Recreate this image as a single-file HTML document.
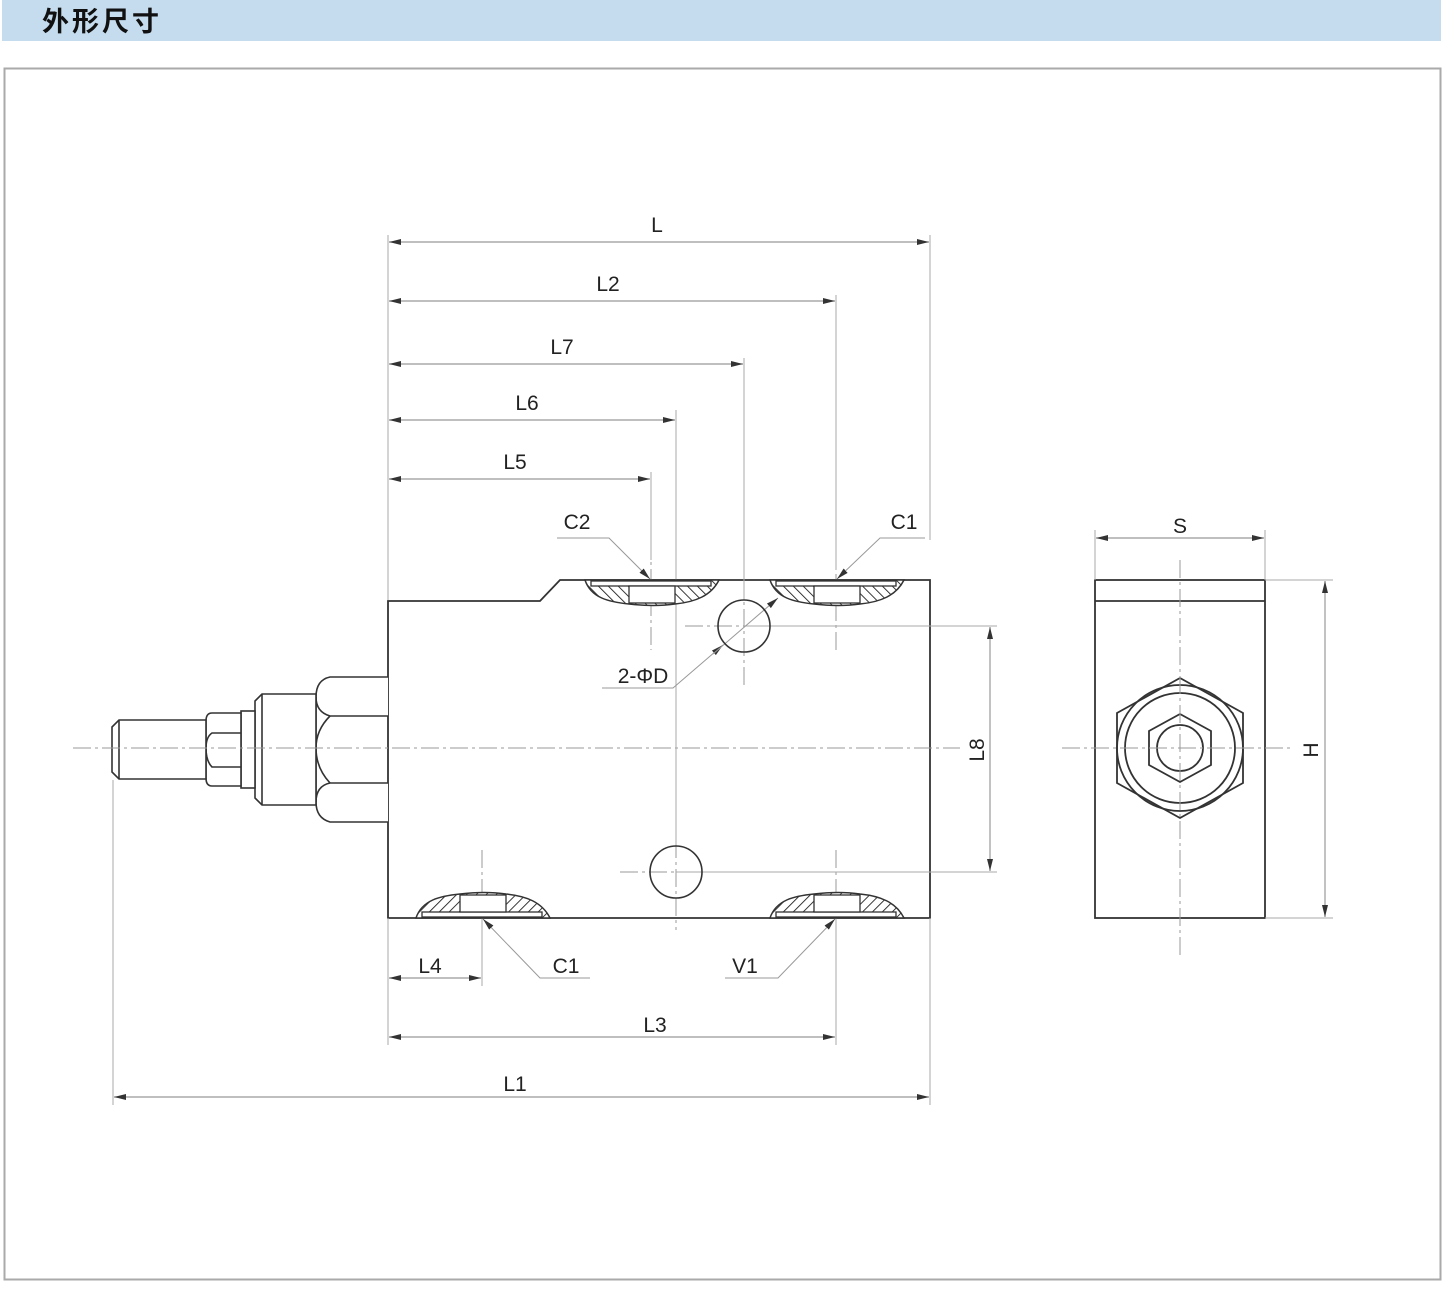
<!DOCTYPE html>
<html><head><meta charset="utf-8"><style>
html,body{margin:0;padding:0;background:#fff;width:1445px;height:1290px;overflow:hidden}
</style></head><body>
<svg width="1445" height="1290" viewBox="0 0 1445 1290" xmlns="http://www.w3.org/2000/svg">
<defs>
<pattern id="h" width="7" height="7" patternUnits="userSpaceOnUse" patternTransform="rotate(45)">
<rect width="7" height="7" fill="#fff"/><line x1="0" y1="0" x2="0" y2="7" stroke="#222" stroke-width="1.8"/>
</pattern>
<g id="port">
<path d="M-66,0 C-60,-18 -42,-22 -22,-24 C-5,-26 10,-26 24,-24 C44,-22 60,-16 68,0 Z" fill="url(#h)" stroke="#333" stroke-width="1.5"/>
<rect x="-60" y="-6" width="120" height="5" fill="#fff" stroke="#333" stroke-width="1.3"/>
<rect x="-22" y="-23" width="46" height="17" fill="#fff" stroke="#333" stroke-width="1.3"/>
</g>
<marker id="a" viewBox="0 0 12 6" refX="12" refY="3" markerWidth="12" markerHeight="6" markerUnits="userSpaceOnUse" orient="auto-start-reverse">
<path d="M0,0 L12,3 L0,6 Z" fill="#333"/></marker>
</defs>
<rect x="2" y="0" width="1439" height="41" fill="#c5dcee"/>
<text x="42" y="31" font-family="'Liberation Sans','Noto Sans CJK SC',sans-serif" font-size="27" font-weight="bold" fill="#111" letter-spacing="3">外形尺寸</text>
<rect x="4.5" y="68.5" width="1436" height="1211" fill="#fff" stroke="#aaa" stroke-width="2"/>

<!-- main body -->
<g stroke="#333" stroke-width="1.8" fill="#fff">
<path d="M388,601 L540,601 L560,580 L930,580 L930,918 L388,918 Z"/>
</g>
<rect x="1095" y="580" width="170" height="338" fill="#fff" stroke="#333" stroke-width="1.8"/>

<!-- centerlines -->
<g stroke="#999" stroke-width="1" stroke-dasharray="18,4,3,4" fill="none">
<line x1="73" y1="748" x2="960" y2="748"/>
<line x1="651" y1="540" x2="651" y2="650"/>
<line x1="836" y1="545" x2="836" y2="650"/>
<line x1="482" y1="850" x2="482" y2="930"/>
<line x1="836" y1="850" x2="836" y2="930"/>
<line x1="744" y1="580" x2="744" y2="685"/>
<line x1="685" y1="626" x2="800" y2="626"/>
<line x1="620" y1="872" x2="735" y2="872"/>
<line x1="676" y1="840" x2="676" y2="930"/>
</g>

<!-- extension lines -->
<g stroke="#aaa" stroke-width="1" fill="none">
<line x1="388" y1="235" x2="388" y2="600"/>
<line x1="930" y1="235" x2="930" y2="540"/>
<line x1="836" y1="295" x2="836" y2="570"/>
<line x1="744" y1="358" x2="744" y2="600"/>
<line x1="676" y1="410" x2="676" y2="845"/>
<line x1="651" y1="472" x2="651" y2="560"/>
<line x1="388" y1="918" x2="388" y2="1045"/>
<line x1="482" y1="918" x2="482" y2="986"/>
<line x1="836" y1="918" x2="836" y2="1045"/>
<line x1="930" y1="918" x2="930" y2="1105"/>
<line x1="113" y1="780" x2="113" y2="1105"/>
<line x1="744" y1="626" x2="997" y2="626"/>
<line x1="676" y1="872" x2="997" y2="872"/>
<line x1="1095" y1="530" x2="1095" y2="580"/>
<line x1="1265" y1="530" x2="1265" y2="580"/>
<line x1="1265" y1="580" x2="1333" y2="580"/>
<line x1="1265" y1="918" x2="1333" y2="918"/>
</g>

<!-- dimension lines -->
<g stroke="#999" stroke-width="1.2" fill="none" marker-start="url(#a)" marker-end="url(#a)">
<line x1="389" y1="242" x2="929" y2="242"/>
<line x1="389" y1="301" x2="835" y2="301"/>
<line x1="389" y1="364" x2="743" y2="364"/>
<line x1="389" y1="420" x2="675" y2="420"/>
<line x1="389" y1="479" x2="650" y2="479"/>
<line x1="389" y1="978" x2="481" y2="978"/>
<line x1="389" y1="1037" x2="835" y2="1037"/>
<line x1="114" y1="1097" x2="929" y2="1097"/>
<line x1="990" y1="627" x2="990" y2="871"/>
<line x1="1096" y1="538" x2="1264" y2="538"/>
<line x1="1325" y1="581" x2="1325" y2="917"/>
</g>

<!-- leaders -->
<g stroke="#999" stroke-width="1" fill="none">
<polyline points="557,538 609,538 650,579" marker-end="url(#a)"/>
<polyline points="925,538 880,538 837,579" marker-end="url(#a)"/>
<polyline points="602,688 673,688 723,645" marker-end="url(#a)"/>
<line x1="713" y1="654" x2="778" y2="598" marker-end="url(#a)"/>
<polyline points="590,978 540,978 483,919" marker-end="url(#a)"/>
<polyline points="725,978 778,978 835,919" marker-end="url(#a)"/>
</g>

<use href="#port" transform="translate(651,580) scale(1,-1)"/>
<use href="#port" transform="translate(836,580) scale(1,-1)"/>
<use href="#port" transform="translate(482,918)"/>
<use href="#port" transform="translate(836,918)"/>
<g stroke="#333" stroke-width="1.6" fill="none">
<circle cx="744" cy="626" r="26"/>
<circle cx="676" cy="872" r="26"/>
</g>

<!-- stem -->
<g stroke="#333" stroke-width="1.6" fill="#fff">
<path d="M388,677 L330,677 Q316,680 316,697 Q316,712 330,716 L388,716"/>
<path d="M388,783 L330,783 Q316,786 316,802 Q316,818 330,822 L388,822"/>
<path d="M330,716 Q316,730 316,748 Q316,768 330,783" fill="none"/>
<line x1="316" y1="697" x2="316" y2="802"/>
<path d="M262,694 L316,694 L316,805 L262,805 L255,798 L255,701 Z"/>
<line x1="262" y1="694" x2="262" y2="805"/>
<rect x="241" y="711" width="14" height="77"/>
<path d="M212,713 L241,713 L241,786 L212,786 Q206,786 206,778 L206,721 Q206,713 212,713 Z"/>
<path d="M241,733 L212,733 Q206,737 206,748 Q206,761 212,767 L241,767" fill="none"/>
<path d="M119,720 L206,720 L206,779 L119,779 L112,772 L112,727 Z"/>
<line x1="119" y1="720" x2="119" y2="779"/>
</g>
<line x1="73" y1="748" x2="400" y2="748" stroke="#999" stroke-width="1" stroke-dasharray="18,4,3,4"/>

<!-- side view -->
<g stroke="#333" stroke-width="1.8" fill="none">
<line x1="1095" y1="601" x2="1265" y2="601"/>
<polygon points="1180,678 1243,713 1243,783 1180,818 1117,783 1117,713"/>
<circle cx="1180" cy="748" r="63"/>
<circle cx="1180" cy="748" r="55"/>
<polygon points="1180,714 1211,731 1211,765 1180,782 1149,765 1149,731"/>
<circle cx="1180" cy="748" r="23"/>
</g>
<g stroke="#999" stroke-width="1" stroke-dasharray="18,4,3,4" fill="none">
<line x1="1062" y1="748" x2="1290" y2="748"/>
<line x1="1180" y1="560" x2="1180" y2="955"/>
</g>

<!-- labels -->
<g font-family="'Liberation Sans',sans-serif" font-size="21" fill="#222" text-anchor="middle">
<text x="657" y="232">L</text>
<text x="608" y="291">L2</text>
<text x="562" y="354">L7</text>
<text x="527" y="410">L6</text>
<text x="515" y="469">L5</text>
<text x="577" y="529">C2</text>
<text x="904" y="529">C1</text>
<text x="643" y="683">2-ΦD</text>
<text x="430" y="973">L4</text>
<text x="566" y="973">C1</text>
<text x="745" y="973">V1</text>
<text x="655" y="1032">L3</text>
<text x="515" y="1091">L1</text>
<text x="1180" y="533">S</text>
<text transform="translate(984,750) rotate(-90)">L8</text>
<text transform="translate(1318,750) rotate(-90)">H</text>
</g>
</svg>
</body></html>
